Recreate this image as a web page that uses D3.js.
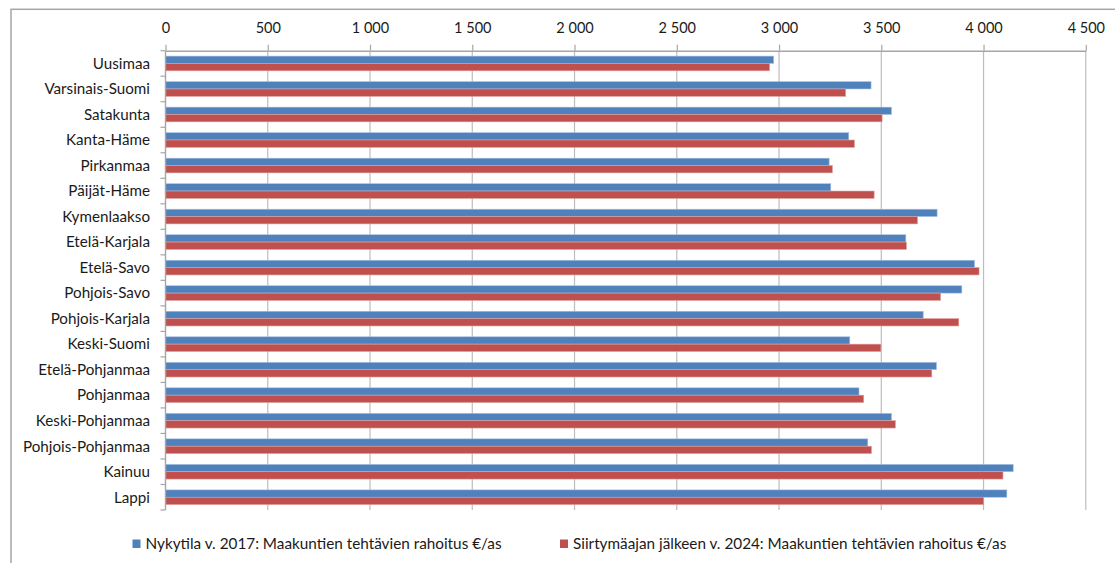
<!DOCTYPE html>
<html>
<head>
<meta charset="utf-8">
<script src="https://cdn.jsdelivr.net/npm/d3@7"></script>
<style>
  body { margin: 0; background: #fff; }
  text { font-family: Lato, "Open Sans", sans-serif; fill: #1a1a1a; }
</style>
</head>
<body>
<div id="chart"></div>
<script>
// Data
const regions = [
  'Uusimaa', 'Varsinais-Suomi', 'Satakunta', 'Kanta-Häme', 'Pirkanmaa',
  'Päijät-Häme', 'Kymenlaakso', 'Etelä-Karjala', 'Etelä-Savo', 'Pohjois-Savo',
  'Pohjois-Karjala', 'Keski-Suomi', 'Etelä-Pohjanmaa', 'Pohjanmaa',
  'Keski-Pohjanmaa', 'Pohjois-Pohjanmaa', 'Kainuu', 'Lappi'
]
const nykytila2017 = [
  2974, 3450, 3550, 3341, 3245, 3253, 3773, 3620, 3956, 3894,
  3705, 3346, 3770, 3391, 3550, 3434, 4145, 4114
]
const siirtyma2024 = [
  2954, 3326, 3504, 3369, 3261, 3465, 3677, 3623, 3978, 3790,
  3879, 3498, 3747, 3414, 3569, 3452, 4095, 4000
]
const seriesNames = [
  'Nykytila v. 2017: Maakuntien tehtävien rahoitus €/as',
  'Siirtymäajan jälkeen v. 2024: Maakuntien tehtävien rahoitus €/as'
]
const xTicks = [0, 500, 1000, 1500, 2000, 2500, 3000, 3500, 4000, 4500]

function draw() {
  const colors = ['#4f81bd', '#c0504d']
  const strokes = ['#a9c1e0', '#dc9f9d']

  const dataset = regions.map((r, i) => ({
    region: r,
    values: [nykytila2017[i], siirtyma2024[i]]
  }))

  // Dimensions
  const dimensions = {
    width: 1115,
    height: 563,
    left: 165.5,
    right: 1085.8,
    top: 50.7,
    bottom: 510
  }

  const svg = d3.select('#chart')
    .append('svg')
    .attr('width', dimensions.width)
    .attr('height', dimensions.height)

  // Outer border (runs off the picture on the right and bottom)
  svg.append('rect')
    .attr('x', 11)
    .attr('y', 9.3)
    .attr('width', 1200)
    .attr('height', 700)
    .attr('fill', 'none')
    .attr('stroke', '#a6a6a6')
    .attr('stroke-width', 1.5)

  // Scales
  const xScale = d3.scaleLinear()
    .domain([0, 4500])
    .range([dimensions.left, dimensions.right])

  const yScale = d3.scaleBand()
    .domain(regions)
    .range([dimensions.top, dimensions.bottom])

  const subScale = d3.scaleBand()
    .domain([0, 1])
    .range([0, yScale.bandwidth()])
    .paddingOuter(0.735)

  const locale = d3.formatLocale({ decimal: ',', thousands: '\u00a0', grouping: [3], currency: ['', '€'] })
  const fmt = locale.format(',')

  // Gridlines
  svg.append('g')
    .selectAll('line')
    .data(xTicks.slice(1))
    .join('line')
    .attr('x1', d => xScale(d))
    .attr('x2', d => xScale(d))
    .attr('y1', dimensions.top)
    .attr('y2', dimensions.bottom)
    .attr('stroke', '#bdbdbd')
    .attr('stroke-width', 1.2)

  // Bars
  const groups = svg.append('g')
    .selectAll('g')
    .data(dataset)
    .join('g')
    .attr('transform', d => `translate(0, ${yScale(d.region)})`)

  groups.selectAll('rect')
    .data(d => d.values.map((v, i) => ({ v, i })))
    .join('rect')
    .attr('x', xScale(0))
    .attr('y', d => subScale(d.i))
    .attr('width', d => xScale(d.v) - xScale(0))
    .attr('height', subScale.bandwidth())
    .attr('fill', d => colors[d.i])
    .attr('stroke', d => strokes[d.i])
    .attr('stroke-width', 0.6)

  // X axis (top)
  const xAxis = d3.axisTop(xScale)
    .tickValues(xTicks)
    .tickSize(6)
    .tickSizeOuter(0)
    .tickPadding(12)
    .tickFormat(fmt)

  const xAxisGroup = svg.append('g')
    .attr('transform', `translate(0, ${dimensions.top})`)
    .call(xAxis)
  xAxisGroup.select('.domain').attr('stroke', '#a6a6a6').attr('stroke-width', 1.4)
  xAxisGroup.selectAll('.tick line').attr('stroke', '#a6a6a6').attr('stroke-width', 1.2)
  xAxisGroup.selectAll('.tick text')
    .attr('font-size', 14.5)
    .attr('font-family', 'Lato, sans-serif')
    .attr('fill', '#1a1a1a')

  // Y axis (left), ticks between categories
  const yAxisGroup = svg.append('g')
  yAxisGroup.append('line')
    .attr('x1', dimensions.left)
    .attr('x2', dimensions.left)
    .attr('y1', dimensions.top)
    .attr('y2', dimensions.bottom)
    .attr('stroke', '#a6a6a6')
    .attr('stroke-width', 1.4)

  const bounds = regions.map(r => yScale(r)).concat([dimensions.bottom])
  yAxisGroup.selectAll('.ytick')
    .data(bounds)
    .join('line')
    .attr('class', 'ytick')
    .attr('x1', dimensions.left - 5)
    .attr('x2', dimensions.left)
    .attr('y1', d => d)
    .attr('y2', d => d)
    .attr('stroke', '#a6a6a6')
    .attr('stroke-width', 1.2)

  yAxisGroup.selectAll('.ylabel')
    .data(regions)
    .join('text')
    .attr('class', 'ylabel')
    .attr('x', 150)
    .attr('y', d => yScale(d) + yScale.bandwidth() / 2)
    .attr('dy', '0.35em')
    .attr('text-anchor', 'end')
    .attr('font-size', 15.2)
    .text(d => d)

  // Legend
  const legendX = [132.5, 560]
  const legend = svg.append('g')
    .selectAll('g')
    .data(seriesNames)
    .join('g')
    .attr('transform', (d, i) => `translate(${legendX[i]}, 544)`)

  legend.append('rect')
    .attr('x', 0)
    .attr('y', -4.5)
    .attr('width', 8)
    .attr('height', 8.5)
    .attr('fill', (d, i) => colors[i])

  legend.append('text')
    .attr('x', 13)
    .attr('y', 0)
    .attr('dy', '0.35em')
    .attr('font-size', 15.3)
    .text(d => d)
}
draw()
</script>
</body>
</html>
